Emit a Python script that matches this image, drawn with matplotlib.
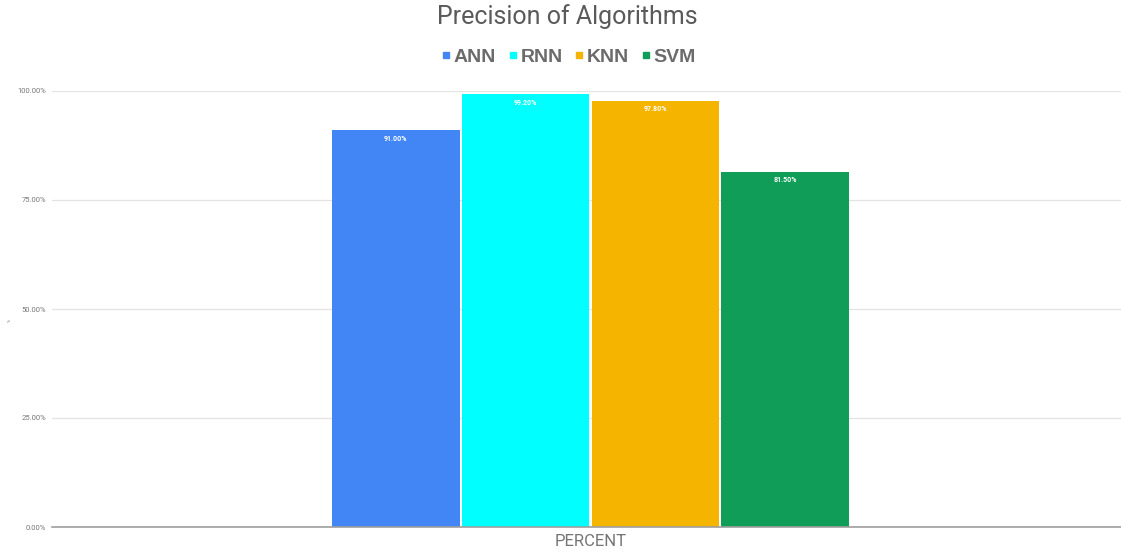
import matplotlib
matplotlib.use("Agg")
import matplotlib.pyplot as plt
from matplotlib.lines import Line2D
from matplotlib.ticker import FuncFormatter

plt.rcParams['font.family'] = ['Roboto', 'DejaVu Sans']

# data
algorithms = ["ANN", "RNN", "KNN", "SVM"]
precision = [91.0, 99.2, 97.8, 81.5]
colors = ["#4285F4", "#00FFFF", "#F4B400", "#0F9D58"]
category = "PERCENT"
yticks = [0, 25, 50, 75, 100]

fig = plt.figure(figsize=(11.21, 5.54), dpi=100)
ax = fig.add_axes([52 / 1121, 27 / 554, 1077 / 1121, 436 / 554])

step = 0.1205
for i, (name, val, col) in enumerate(zip(algorithms, precision, colors)):
    x = (i - 1.5) * step
    ax.bar(x, val, width=step - 0.002, color=col, edgecolor="none", zorder=3)
    ax.text(x, val - 1.0, f"{val:.2f}%", ha="center", va="top",
            fontsize=5, color="white", fontweight="bold", zorder=4)

ax.set_xlim(-0.5, 0.5)
ax.set_ylim(0, 100)
ax.set_yticks(yticks)
ax.yaxis.set_major_formatter(FuncFormatter(lambda v, _: f"{v:.2f}%"))
ax.tick_params(axis="y", length=0, labelsize=5.5, labelcolor="#777777", pad=4)
ax.set_xticks([0])
ax.set_xticklabels([category])
ax.tick_params(axis="x", length=0, labelsize=12, labelcolor="#757575", pad=5)
ax.grid(axis="y", color="#e3e3e3", linewidth=0.9, zorder=0)
for s in ["top", "right", "left"]:
    ax.spines[s].set_visible(False)
ax.spines["bottom"].set_color("#9e9e9e")
ax.spines["bottom"].set_linewidth(1.2)
ax.spines["bottom"].set_zorder(5)

# tiny axis caption at the far left
fig.text(10 / 1121, 1 - 320 / 554, "%", rotation=90, ha="center",
         va="center", fontsize=3, color="#777777")

fig.text(567 / 1121, 1 - 17 / 554, "Precision of Algorithms", ha="center",
         va="center", fontsize=18, color="#5a5a5a")

handles = [Line2D([0], [0], marker="s", linestyle="none", markersize=5,
                  markerfacecolor=c, markeredgecolor=c) for c in colors]
leg = fig.legend(handles, algorithms, loc="center", ncol=4,
                 bbox_to_anchor=(567 / 1121, 1 - 57 / 554), frameon=False,
                 handletextpad=0.0, columnspacing=0.45, handlelength=0.8,
                 prop={"family": "Liberation Sans", "size": 14,
                       "weight": "bold"})
for t in leg.get_texts():
    t.set_color("#6b6b6b")

fig.savefig("out.png", dpi=100)
